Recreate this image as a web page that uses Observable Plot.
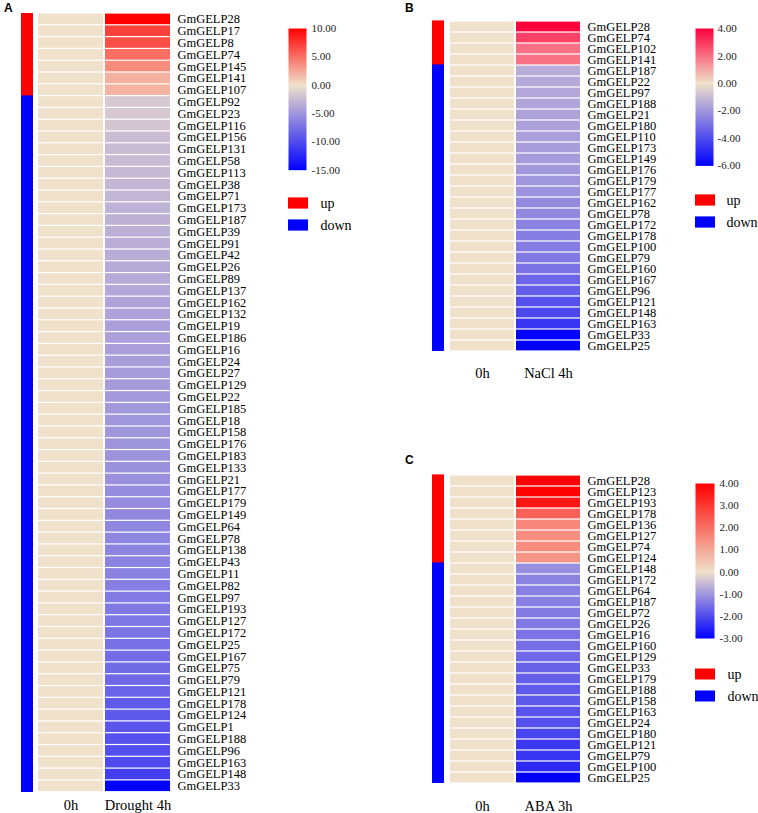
<!DOCTYPE html>
<html><head><meta charset="utf-8">
<script src="https://cdn.jsdelivr.net/npm/d3@7"></script>
<script src="https://cdn.jsdelivr.net/npm/@observablehq/plot@0.6"></script>
<style>
html,body{margin:0;padding:0;background:#fff;}
#chart{position:relative;width:758px;height:813px;overflow:hidden;font-family:"Liberation Serif","Times New Roman",serif;}
.plabel{position:absolute;font:bold 12px/12px "Liberation Sans",Arial,sans-serif;color:#000;}
</style></head>
<body><div id="chart"></div>
<script>
// ---------- data ----------
const directions = ["up", "down"];
const directionColors = ["#ff0000", "#0000ff"];
const baselineLabel = "0h";

// Panel A: Drought 4h
const genesA = ["GmGELP28","GmGELP17","GmGELP8","GmGELP74","GmGELP145","GmGELP141","GmGELP107","GmGELP92","GmGELP23","GmGELP116","GmGELP156","GmGELP131","GmGELP58","GmGELP113","GmGELP38","GmGELP71","GmGELP173","GmGELP187","GmGELP39","GmGELP91","GmGELP42","GmGELP26","GmGELP89","GmGELP137","GmGELP162","GmGELP132","GmGELP19","GmGELP186","GmGELP16","GmGELP24","GmGELP27","GmGELP129","GmGELP22","GmGELP185","GmGELP18","GmGELP158","GmGELP176","GmGELP183","GmGELP133","GmGELP21","GmGELP177","GmGELP179","GmGELP149","GmGELP64","GmGELP78","GmGELP138","GmGELP43","GmGELP11","GmGELP82","GmGELP97","GmGELP193","GmGELP127","GmGELP172","GmGELP25","GmGELP167","GmGELP75","GmGELP79","GmGELP121","GmGELP178","GmGELP124","GmGELP1","GmGELP188","GmGELP96","GmGELP163","GmGELP148","GmGELP33"];
const drought4h = [10, 7.1, 6.5, 5.1, 3.8, 2.2, 2.0,
  -1.6, -1.7, -1.8, -2.4, -2.5, -2.6, -2.7, -2.8, -2.9, -3.1, -3.2, -3.3, -3.4, -3.5, -3.6, -3.7, -3.8,
  -4.1, -4.2, -4.3, -4.3, -4.4, -4.5, -4.6, -4.7, -4.8, -4.9, -5.0, -5.0, -5.1, -5.2, -5.3, -5.4,
  -5.6, -5.7, -5.9, -6.0, -6.1, -6.2, -6.3, -6.4, -6.6, -6.8, -7.0, -7.1, -7.3, -7.5, -7.8, -7.9, -8.0,
  -8.3, -9.0, -9.1, -9.3, -9.6, -9.8, -10.1, -10.8, -15];
const condA = "Drought 4h";
const colorDomainA = [-15, 0, 10];
const colorTicksA = [10, 5, 0, -5, -10, -15];

// Panel B: NaCl 4h
const genesB = ["GmGELP28","GmGELP74","GmGELP102","GmGELP141","GmGELP187","GmGELP22","GmGELP97","GmGELP188","GmGELP21","GmGELP180","GmGELP110","GmGELP173","GmGELP149","GmGELP176","GmGELP179","GmGELP177","GmGELP162","GmGELP78","GmGELP172","GmGELP178","GmGELP100","GmGELP79","GmGELP160","GmGELP167","GmGELP96","GmGELP121","GmGELP148","GmGELP163","GmGELP33","GmGELP25"];
const nacl4h = [4.0, 2.85, 2.0, 1.95,
  -1.4, -1.5, -1.55, -1.6, -1.65, -1.7, -1.75, -1.8, -1.85, -1.95, -2.0, -2.1, -2.3, -2.35, -2.5,
  -2.65, -2.7, -2.8, -2.95, -3.3, -3.5, -3.9, -4.1, -4.6, -5.9, -6.0];
const condB = "NaCl 4h";
const colorDomainB = [-6, 0, 4];
const colorTicksB = [4, 2, 0, -2, -4, -6];

// Panel C: ABA 3h
const genesC = ["GmGELP28","GmGELP123","GmGELP193","GmGELP178","GmGELP136","GmGELP127","GmGELP74","GmGELP124","GmGELP148","GmGELP172","GmGELP64","GmGELP187","GmGELP72","GmGELP26","GmGELP16","GmGELP160","GmGELP129","GmGELP33","GmGELP179","GmGELP188","GmGELP158","GmGELP163","GmGELP24","GmGELP180","GmGELP121","GmGELP79","GmGELP100","GmGELP25"];
const aba3h = [4.0, 3.95, 3.6, 2.3, 1.6, 1.5, 1.5, 1.35,
  -1.1, -1.25, -1.3, -1.3, -1.35, -1.4, -1.45, -1.55, -1.6, -1.7, -1.75, -1.8, -1.8, -1.9, -1.95,
  -2.1, -2.25, -2.3, -2.45, -3.0];
const condC = "ABA 3h";
const colorDomainC = [-3, 0, 4];
const colorTicksC = [4, 3, 2, 1, 0, -1, -2, -3];

// ---------- helpers ----------
const chart = document.getElementById("chart");
const BEIGE = "#f0e1cb";
const SERIF = "Liberation Serif, Times New Roman, serif";
function place(el, left, top) {
  el.style.position = "absolute";
  el.style.left = left + "px";
  el.style.top = top + "px";
  chart.appendChild(el);
}
function colorScale(domain, red) {
  return {type: "linear", domain, range: ["#0000ff", BEIGE, red], interpolate: "rgb", clamp: true};
}
const baseStyle = {background: "transparent", overflow: "visible", fontFamily: SERIF, color: "#000"};

function panel(genes, values, cond, cdomain, red, ticks, g) {
  const rows = genes.flatMap((gene, i) => [
    {gene, condition: baselineLabel, value: 0},
    {gene, condition: cond, value: values[i]}
  ]);
  const dirRows = genes.map((gene, i) => ({gene, direction: values[i] > 0 ? "up" : "down"}));
  const hRows = g.rowBottom - g.rowTop;

  // side bar
  const side = Plot.plot({
    width: g.sideW, height: hRows,
    marginLeft: 0, marginRight: 0, marginTop: 0, marginBottom: 0,
    style: baseStyle,
    y: {domain: genes, padding: 0, axis: null},
    color: {type: "ordinal", domain: directions, range: directionColors},
    marks: [Plot.cell(dirRows, {y: "gene", fill: "direction", stroke: "direction", strokeWidth: 0.6, shapeRendering: "crispEdges"})]
  });
  place(side, g.sideLeft, g.rowTop);

  // heatmap
  const mr = 95, mb = 30;
  const heat = Plot.plot({
    width: (g.colRight - g.colLeft) + mr, height: hRows + mb,
    marginLeft: 0, marginTop: 0, marginRight: mr, marginBottom: mb,
    style: baseStyle,
    x: {domain: [baselineLabel, cond], padding: 0},
    y: {domain: genes, padding: 0},
    color: colorScale(cdomain, red),
    marks: [
      Plot.cell(rows, {x: "condition", y: "gene", fill: "value", insetTop: 0.6, insetBottom: 0.6, insetLeft: 1, insetRight: 1}),
      Plot.axisY({anchor: "right", tickSize: 0, tickPadding: 6, fontSize: 12.5, label: null}),
      Plot.axisX({anchor: "bottom", tickSize: 0, tickPadding: g.xPad, fontSize: 14.5, label: null})
    ]
  });
  place(heat, g.colLeft, g.rowTop);

  // colour bar
  const lo = cdomain[0], hi = cdomain[cdomain.length - 1];
  const cb = Plot.plot({
    width: g.barW + 45, height: g.barH + 12,
    marginLeft: 0, marginRight: 45, marginTop: 6, marginBottom: 6,
    style: baseStyle,
    x: {domain: [0, 1], axis: null},
    y: {domain: [lo, hi]},
    color: colorScale(cdomain, red),
    marks: [
      Plot.raster({x1: 0, x2: 1, y1: lo, y2: hi, fill: (x, y) => y, width: 1, height: 300}),
      Plot.axisY({anchor: "right", ticks, tickFormat: d => d.toFixed(2), tickSize: 0, tickPadding: g.barPad, fontSize: 11, label: null, fill: "#222"})
    ]
  });
  place(cb, g.barLeft, g.barTop - 6);

  // up / down legend
  const lg = Plot.plot({
    width: 80, height: g.legPitch * 2,
    marginLeft: 0, marginRight: 0, marginTop: 0, marginBottom: 0,
    style: baseStyle,
    x: {domain: ["swatch"], range: [0, 20], padding: 0, axis: null},
    y: {domain: directions, padding: 0, axis: null},
    color: {type: "ordinal", domain: directions, range: directionColors},
    marks: [
      Plot.cell(directions, {x: () => "swatch", y: d => d, fill: d => d, insetTop: (g.legPitch - 11.7) / 2, insetBottom: (g.legPitch - 11.7) / 2}),
      Plot.text(directions, {y: d => d, text: d => d, frameAnchor: "left", dx: g.legText, textAnchor: "start", fontSize: 14, fill: "#000"})
    ]
  });
  place(lg, g.barLeft, g.legTop);

  // panel letter
  const lab = document.createElement("div");
  lab.className = "plabel";
  lab.textContent = g.letter;
  lab.style.left = g.letterX + "px";
  lab.style.top = g.letterY + "px";
  chart.appendChild(lab);
}

panel(genesA, drought4h, condA, colorDomainA, "#ff0000", colorTicksA, {
  letter: "A", letterX: 4, letterY: 1.7,
  sideLeft: 21, sideW: 12, colLeft: 37, colRight: 171, rowTop: 13, rowBottom: 791.7, xPad: 7.5,
  barLeft: 288, barTop: 28.3, barW: 18, barH: 141.7, barPad: 5,
  legTop: 191.3, legPitch: 22.5, legText: 32
});
panel(genesB, nacl4h, condB, colorDomainB, "#ff003c", colorTicksB, {
  letter: "B", letterX: 405, letterY: 1.5,
  sideLeft: 432, sideW: 12, colLeft: 448, colRight: 581, rowTop: 12.3, rowBottom: 360, xPad: 7.5,
  barLeft: 695, barTop: 28.3, barW: 18, barH: 137.4, barPad: 4,
  legTop: 187.8, legPitch: 22.5, legText: 31
});
panel(genesC, aba3h, condC, colorDomainC, "#ff0000", colorTicksC, {
  letter: "C", letterX: 405, letterY: 453.5,
  sideLeft: 432, sideW: 12, colLeft: 448, colRight: 581, rowTop: 466.7, rowBottom: 791, xPad: 8.5,
  barLeft: 695, barTop: 482.7, barW: 19, barH: 155, barPad: 5,
  legTop: 661.6, legPitch: 22.7, legText: 32
});
</script>
</body></html>
